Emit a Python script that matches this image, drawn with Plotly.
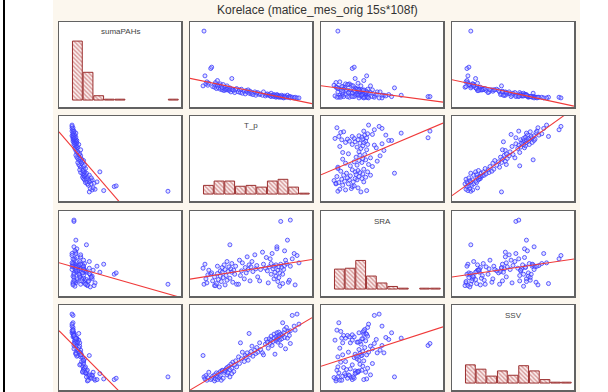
import numpy as np
import plotly.graph_objects as go

# ---- data (arbitrary units: 0 = min, 100 = max) ----
var_names = ["sumaPAHs", "T_p", "SRA", "SSV"]

t_p = [0, 1, 2, 3, 4, 5, 6, 8, 9, 10,
       12, 12, 13, 14, 15, 15, 16, 17, 18, 18, 19, 20, 20, 21, 22,
       23, 23, 24, 25, 25, 26, 27, 28, 28, 29, 30, 30, 31, 32, 33,
       34, 35, 37, 38, 39, 40, 41, 43, 44,
       45, 46, 47, 48, 49, 50, 51, 52, 54, 55,
       56, 57, 59, 60, 62, 63, 65, 66,
       67, 68, 69, 70, 71, 71, 72, 73, 74, 74, 75, 76, 76, 77, 77,
       78, 78, 79, 79, 80, 80, 81, 81, 82, 83, 83, 84, 85, 85, 86, 87, 88,
       89, 90, 91, 91, 93, 95, 96, 98, 100]

ssv = [38, 6, 3, 8, 1, 5, 13, 2, 4, 7,
       0, 9, 3, 12, 6, 2, 11, 5, 14, 8, 1, 16, 15, 4, 13,
       16, 15, 18, 9, 20, 12, 22, 6, 17, 25, 11, 19, 28, 14, 24,
       30, 21, 36, 26, 57, 33, 43, 29, 38,
       35, 42, 31, 71, 39, 44, 52, 37, 46, 41,
       50, 43, 57, 47, 42, 39, 55, 62,
       58, 49, 63, 56, 61, 67, 53, 59, 64, 70, 40, 66, 60, 72, 62,
       64, 58, 68, 73, 61, 66, 70, 53, 63, 87, 69, 72, 65, 77, 48, 80, 64,
       74, 68, 56, 75, 98, 82, 76, 100, 85]

suma_pahs = [18, 100, 33, 21, 24, 19, 22, 44, 46, 17,
             16, 20, 23, 14, 18, 26, 15, 19, 13, 21, 17, 12, 15, 20, 11,
             16, 13, 12, 18, 13, 14, 11, 15, 12, 9, 29, 13, 12, 11, 8,
             12, 14, 9, 12, 8, 13, 7, 10, 6,
             11, 9, 12, 7, 10, 6, 8, 5, 9, 4,
             7, 8, 5, 6, 4, 9, 3, 5,
             6, 4, 5, 3, 7, 2, 4, 3, 5, 2, 4, 1, 3, 2, 5,
             3, 4, 2, 1, 3, 2, 1, 2, 4, 1, 2, 0, 3, 1, 2, 1, 4,
             1, 2, 2, 0, 1, 0, 1, 0, 0]

sra = [28, 4, 34, 12, 6, 18, 25, 19, 21, 9,
       2, 15, 2, 5, 20, 31, 11, 0, 24, 16, 8, 29, 22, 14, 33,
       3, 26, 17, 38, 10, 23, 30, 63, 13, 27, 22, 35, 7, 25, 19,
       31, 4, 4, 40, 17, 24, 36, 12, 29,
       21, 45, 26, 33, 9, 30, 38, 23, 48, 27,
       32, 15, 9, 26, 52, 34, 28, 44,
       24, 6, 30, 42, 19, 35, 50, 27, 12, 31, 22, 16, 33, 60, 57,
       8, 25, 14, 30, 1, 21, 34, 98, 29, 5, 19, 26, 54, 32, 40, 35, 70,
       7, 10, 100, 31, 42, 50, 3, 47, 36]

data = [suma_pahs, t_p, sra, ssv]
n_bins = 9

W, H = 608, 392
col_px = [(59, 181), (190, 312), (321, 443), (452, 574)]
row_px = [(22, 107), (116, 201), (211, 296), (305, 390)]

def rng(v):
    lo, hi = min(v), max(v)
    s = hi - lo
    return [lo - 0.136 * s, hi + 0.136 * s]

fig = go.Figure()
layout = {}
annotations = []
axis_style = dict(showline=True, mirror=True, linecolor="#626262", linewidth=1.5,
                  showticklabels=False, ticks="", showgrid=False, zeroline=False,
                  fixedrange=True)

n = 0
for i in range(4):
    for j in range(4):
        n += 1
        xa = "x" if n == 1 else f"x{n}"
        ya = "y" if n == 1 else f"y{n}"
        xk = "xaxis" if n == 1 else f"xaxis{n}"
        yk = "yaxis" if n == 1 else f"yaxis{n}"
        x0, x1 = col_px[j]
        y0, y1 = row_px[i]
        layout[xk] = dict(axis_style, domain=[x0 / W, x1 / W], anchor=ya, range=rng(data[j]))
        if i == j:
            v = data[i]
            lo, hi = min(v), max(v)
            size = (hi - lo) / n_bins
            fig.add_trace(go.Histogram(
                x=v, xaxis=xa, yaxis=ya,
                xbins=dict(start=lo, end=hi + size * 0.001, size=size),
                marker=dict(color="#f6dada",
                            line=dict(color="#9c3030", width=1),
                            pattern=dict(shape="\\", fgcolor="#b04040", bgcolor="#fbeeee",
                                         size=3, solidity=0.45)),
                showlegend=False, hoverinfo="skip"))
            layout[yk] = dict(axis_style, domain=[1 - y1 / H, 1 - y0 / H], anchor=xa,
                              range=[-8, 90])
            annotations.append(dict(text=var_names[i], x=(x0 + x1) / 2 / W,
                                    y=1 - (y0 + 10) / H, xref="paper", yref="paper",
                                    showarrow=False, xanchor="center", yanchor="middle",
                                    font=dict(size=8, color="#444444",
                                              family="Liberation Sans, Arial, sans-serif")))
        else:
            xv = np.array(data[j], dtype=float)
            yv = np.array(data[i], dtype=float)
            fig.add_trace(go.Scatter(
                x=xv, y=yv, mode="markers", xaxis=xa, yaxis=ya,
                marker=dict(symbol="circle", size=4, color="rgba(170,170,255,0.35)",
                            line=dict(color="#3a3aff", width=0.8)),
                showlegend=False, hoverinfo="skip"))
            slope, icpt = np.polyfit(xv, yv, 1)
            xr = np.array(rng(data[j]))
            fig.add_trace(go.Scatter(
                x=xr, y=slope * xr + icpt, mode="lines", xaxis=xa, yaxis=ya,
                line=dict(color="#f03a3a", width=1.1),
                showlegend=False, hoverinfo="skip"))
            layout[yk] = dict(axis_style, domain=[1 - y1 / H, 1 - y0 / H], anchor=xa,
                              range=rng(data[i]))

annotations.append(dict(text="Korelace (matice_mes_orig 15s*108f)", x=317 / W, y=1 - 10 / H,
                        xref="paper", yref="paper", showarrow=False,
                        xanchor="center", yanchor="middle",
                        font=dict(size=12, color="#333333",
                                  family="Liberation Sans, Arial, sans-serif")))

shapes = [
    dict(type="rect", xref="paper", yref="paper", x0=0, x1=53 / W, y0=0, y1=1,
         fillcolor="white", line=dict(width=0), layer="below"),
    dict(type="rect", xref="paper", yref="paper", x0=580 / W, x1=1, y0=0, y1=1,
         fillcolor="white", line=dict(width=0), layer="below"),
    dict(type="rect", xref="paper", yref="paper", x0=3 / W, x1=5 / W, y0=0, y1=1,
         fillcolor="black", line=dict(width=0), layer="above"),
]

fig.update_layout(**layout)
fig.update_layout(width=W, height=H, margin=dict(l=0, r=0, t=0, b=0),
                  paper_bgcolor="#fcf7ee", plot_bgcolor="white",
                  bargap=0.08, annotations=annotations, shapes=shapes,
                  showlegend=False)

fig.write_html("out.html", config={"displayModeBar": False, "staticPlot": True},
               post_script="document.body.style.margin='0';document.body.style.padding='0';"
                           "document.body.style.overflow='hidden';")
